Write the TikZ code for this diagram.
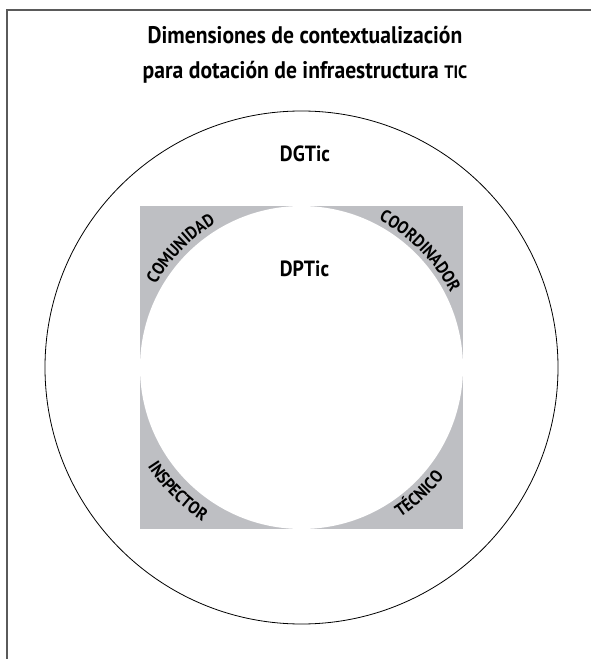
\documentclass[tikz,border=0pt]{standalone}
\usepackage{fontspec}
\setmainfont{PT Sans}[FakeStretch=0.9]
\usepackage{tikz}
\usetikzlibrary{decorations.text}
\definecolor{panelgray}{RGB}{190,191,195}
\definecolor{framegray}{RGB}{90,90,90}
\def\lblfont{\bfseries\fontsize{17.5}{17.5}\selectfont}
\def\arclabel[#1](#2:#3:#4)#5{\path[decorate, decoration={text along path, text={|\lblfont|#5}, text align=center}] (#2:#4) arc[start angle=#2, end angle=#3, radius=#4];}

\begin{document}
\begin{tikzpicture}[x=1pt, y=1pt]
		%%%%% START %%%%%
		\useasboundingbox (-301.5,-291.5) rectangle (288.5,367.5);
		
		\draw[framegray, line width=1.3] (-294.5,-300) -- (-294.5,357.5) -- (300,357.5);
		
		\node[font=\bfseries\fontsize{24}{28}\selectfont, anchor=base] (title1) at (3.5,324) {Dimensiones de contextualización};
		\node[font=\bfseries\fontsize{24}{28}\selectfont, anchor=base] (title2) at (3.5,289) {para dotación de infraestructura {\fontsize{18}{18}\selectfont TIC}};
		
		\draw[line width=0.8] (0,0) circle (256.5);
		\node[font=\bfseries\fontsize{22}{22}\selectfont, anchor=base] (dgtic) at (3.5,205.5) {DGTic};
		
		\fill[panelgray] (-161.5,-161.5) rectangle (161.5,161.5);
		\fill[white] (0,0) circle (161.5);
		\node[font=\bfseries\fontsize{22}{22}\selectfont, anchor=base] (dptic) at (3,91.5) {DPTic};
		
		\arclabel[](165:106:167.5){COMUNIDAD}
		\arclabel[](75:14:166.5){COORDINADOR}
		\arclabel[](195:255:183){INSPECTOR}
		\arclabel[](283:343:179.5){TÉCNICO}
		%%%%% END %%%%%
\end{tikzpicture}
\end{document}
